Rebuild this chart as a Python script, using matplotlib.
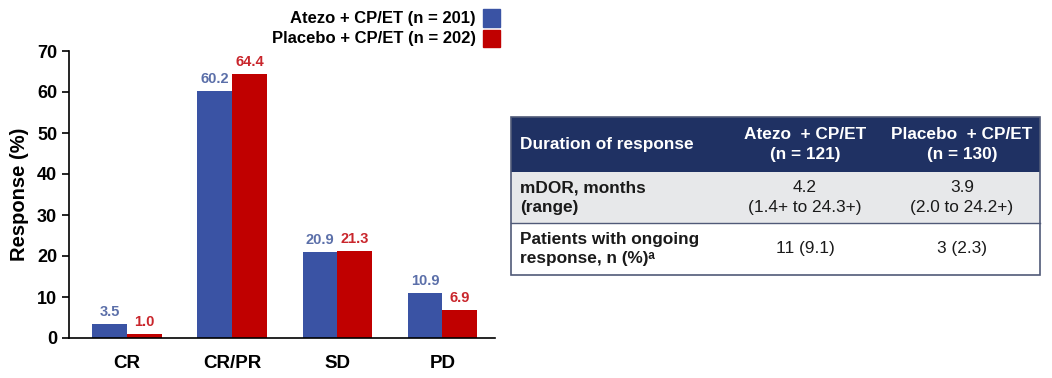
import numpy as np
import matplotlib.pyplot as plt
from matplotlib.patches import Rectangle

plt.rcParams["font.family"] = ["Liberation Sans", "DejaVu Sans"]

# =========================
# Données
# =========================

categories = ["CR", "CR/PR", "SD", "PD"]
atezo = [3.5, 60.2, 20.9, 10.9]
placebo = [1.0, 64.4, 21.3, 6.9]
legend_labels = ["Atezo + CP/ET (n = 201)", "Placebo + CP/ET (n = 202)"]

table_header = ["Duration of response", "Atezo  + CP/ET\n(n = 121)", "Placebo  + CP/ET\n(n = 130)"]
table_rows = [
    ["mDOR, months\n(range)", "4.2\n(1.4+ to 24.3+)", "3.9\n(2.0 to 24.2+)"],
    ["Patients with ongoing\nresponse, n (%)ᵃ", "11 (9.1)", "3 (2.3)"],
]

BLUE = "#3a53a4"
RED = "#c00000"
BLUE_TXT = "#5b6fa9"
RED_TXT = "#c9262c"
NAVY = "#1f3163"

W, H = 1052, 378
fig = plt.figure(figsize=(W / 100, H / 100), dpi=100)

# =========================
# Graphique en barres
# =========================

ax = fig.add_axes([69 / W, 1 - 338 / H, (495 - 69) / W, (338 - 51) / H])
x = np.arange(len(categories))
bw = 0.33
ax.bar(x - bw / 2, atezo, bw, color=BLUE)
ax.bar(x + bw / 2, placebo, bw, color=RED)

for i in range(len(categories)):
    ax.text(x[i] - bw / 2, atezo[i] + 1.2, f"{atezo[i]:.1f}", ha="center", va="bottom",
            color=BLUE_TXT, fontsize=10.5, fontweight="bold")
    ax.text(x[i] + bw / 2, placebo[i] + 1.2, f"{placebo[i]:.1f}", ha="center", va="bottom",
            color=RED_TXT, fontsize=10.5, fontweight="bold")

ax.set_xlim(-0.55, 3.5)
ax.set_ylim(0, 70)
ax.set_yticks(range(0, 71, 10))
ax.set_xticks(x)
ax.set_xticklabels(categories, fontsize=13.5, fontweight="bold")
ax.tick_params(axis="y", labelsize=13, length=5, width=1.2)
ax.tick_params(axis="x", length=0, pad=12)
for lab in ax.get_yticklabels():
    lab.set_fontweight("bold")
ax.set_ylabel("Response (%)", fontsize=14.5, fontweight="bold", labelpad=6)
for side in ["top", "right"]:
    ax.spines[side].set_visible(False)
ax.spines["left"].set_linewidth(1.2)
ax.spines["bottom"].set_linewidth(1.2)

# Légende manuelle (texte aligné à droite + carrés)
for j, (lab, col) in enumerate(zip(legend_labels, [BLUE, RED])):
    yc = 1 - (18 + 21 * j) / H
    fig.text(476 / W, yc, lab, ha="right", va="center", fontsize=12, fontweight="bold")
    fig.patches.append(Rectangle((483 / W, yc - 8.5 / H), 17 / W, 17 / H,
                                 transform=fig.transFigure, color=col))

# =========================
# Tableau
# =========================

tx0, tx1 = 511, 1040
col_edges = [511, 720, 880, 1040]
row_edges = [117, 172, 223, 275]
row_colors = [NAVY, "#e7e8ea", "white"]

def fx(px):
    return px / W

def fy(py):
    return 1 - py / H

for r in range(3):
    y0, y1 = row_edges[r], row_edges[r + 1]
    fig.patches.append(Rectangle((fx(tx0), fy(y1)), (tx1 - tx0) / W, (y1 - y0) / H,
                                 transform=fig.transFigure, facecolor=row_colors[r],
                                 edgecolor="none"))

# bordures
fig.patches.append(Rectangle((fx(tx0), fy(275)), (tx1 - tx0) / W, (275 - 117) / H,
                             transform=fig.transFigure, facecolor="none",
                             edgecolor="#505a78", linewidth=1.2))
fig.add_artist(plt.Line2D([fx(tx0), fx(tx1)], [fy(223), fy(223)],
                          transform=fig.transFigure, color="#505a78", linewidth=1))

cells = [table_header] + table_rows
for r, row in enumerate(cells):
    yc = (row_edges[r] + row_edges[r + 1]) / 2
    for c, txt in enumerate(row):
        color = "white" if r == 0 else "#1a1a1a"
        weight = "bold" if (r == 0 or c == 0) else "normal"
        if c == 0:
            fig.text(fx(520), fy(yc), txt, ha="left", va="center", fontsize=12.4,
                     fontweight=weight, color=color, linespacing=1.4)
        else:
            xc = (col_edges[c] + col_edges[c + 1]) / 2 + (5 if c == 1 else 2)
            fig.text(fx(xc), fy(yc), txt, ha="center", va="center", fontsize=12.4,
                     fontweight=weight, color=color, linespacing=1.4)

fig.savefig("out.png", dpi=100)
